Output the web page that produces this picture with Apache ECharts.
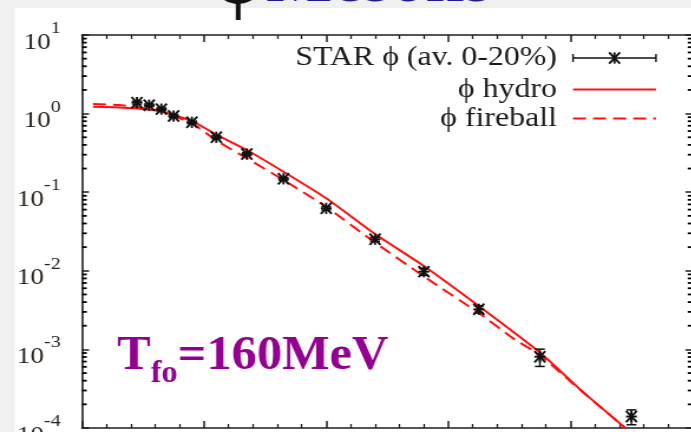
<!DOCTYPE html>
<html>
<head>
<meta charset="utf-8">
<script src="https://cdn.jsdelivr.net/npm/echarts@6/dist/echarts.min.js"></script>
<style>
  html, body { margin: 0; padding: 0; background: #f0f0f0; overflow: hidden; }
  #wrap { width: 691px; height: 432px; overflow: hidden; position: relative; }
  #chart { position: absolute; left: 0; top: 0; height: 432px; transform-origin: 0 0; }
</style>
</head>
<body>
<div id="wrap"><div id="chart"></div></div>
<script>
// The plot is drawn slightly narrow and widened horizontally, like the original figure.
const SX = 1.18;
const W = 691 / SX;
const chartEl = document.getElementById('chart');
chartEl.style.width = W + 'px';
chartEl.style.transform = 'scaleX(' + SX + ')';

// STAR phi spectrum, 0-20% centrality (pT in GeV, yield, error)
const phiPt    = [0.45, 0.55, 0.65, 0.75, 0.9, 1.1, 1.35, 1.65, 2.0, 2.4, 2.8, 3.25, 3.75, 4.5];
const phiYield = [1.38, 1.28, 1.14, 0.93, 0.775, 0.50, 0.306, 0.148, 0.0624, 0.0252, 0.00975, 0.00324, 0.000807, 0.00014];
const phiErr   = [0.06, 0.05, 0.045, 0.04, 0.03, 0.02, 0.012, 0.006, 0.003, 0.0015, 0.001, 0.00033, 0.0002, 0.00003];

// hydro curve
const hydroPt  = [0.09, 0.3, 0.45, 0.65, 0.75, 0.9, 1.1, 1.35, 1.65, 2.0, 2.4, 2.8, 3.25, 3.75, 4.1, 4.45];
const hydroVal = [1.22, 1.20, 1.16, 1.08, 0.95, 0.81, 0.54, 0.344, 0.182, 0.0836, 0.0294, 0.0115, 0.00356, 0.000914, 0.00029, 0.0001];

// fireball curve
const fireballPt  = [0.09, 0.3, 0.45, 0.65, 0.9, 1.1, 1.35, 1.65, 2.0, 2.4, 2.8, 3.25, 3.55, 3.75, 4.1, 4.45];
const fireballVal = [1.32, 1.29, 1.21, 1.06, 0.75, 0.455, 0.27, 0.143, 0.065, 0.0229, 0.00847, 0.0029, 0.00132, 0.00085, 0.000287, 0.0001];

// axis ranges
const xMin = 0, xMax = 5, xStep = 1;
const yMin = 1e-4, yMax = 10;

// 2..9 x 10^k minor ticks for the log axis
const logMinor = [];
for (let k = -4; k <= 0; k++) {
  for (let m = 2; m <= 9; m++) logMinor.push(m * Math.pow(10, k));
}

const INK = '#1e1e1e';
const RED = '#ff1010';
const SERIF = '"Liberation Serif", "Times New Roman", serif';

const axisLine = { show: true, onZero: false, lineStyle: { color: INK, width: 1.6 } };

function xAxisAt(pos) {
  return {
    type: 'value', position: pos, min: xMin, max: xMax, interval: xStep,
    axisLine: axisLine,
    axisTick: { show: true, inside: true, length: 7, lineStyle: { color: INK, width: 1.5 } },
    minorTick: { show: true, splitNumber: 5, length: 4, lineStyle: { color: INK, width: 1.3 } },
    axisLabel: { show: false }, splitLine: { show: false }, minorSplitLine: { show: false }
  };
}

function yAxisAt(pos, labels) {
  return {
    type: 'log', logBase: 10, position: pos, min: yMin, max: yMax,
    axisLine: axisLine,
    axisTick: { show: true, inside: true, length: 6, lineStyle: { color: INK, width: 1.5 } },
    splitLine: { show: false },
    axisLabel: labels ? {
      show: true, margin: 18, showMinLabel: true, showMaxLabel: true,
      padding: [4, 0, 0, 0],
      formatter: function (v) {
        const e = Math.round(Math.log10(v));
        return '{b|10}{s|' + e + '}';
      },
      rich: {
        b: { fontFamily: SERIF, fontSize: 23, lineHeight: 34, verticalAlign: 'bottom', color: '#2a2420' },
        s: { fontFamily: SERIF, fontSize: 17, lineHeight: 17, verticalAlign: 'top', color: '#2a2420' }
      }
    } : { show: false }
  };
}

// minor log ticks drawn as short bars sitting on the frame edges
const MINOR_LEN = 4;
function minorTickSeries(xEdge, dir) {
  return {
    type: 'scatter', xAxisIndex: 0, yAxisIndex: 0, silent: true,
    data: logMinor.map(v => [xEdge, v]),
    symbol: 'rect', symbolSize: [MINOR_LEN, 1.8], symbolOffset: [dir * MINOR_LEN / 2, 0],
    itemStyle: { color: '#000000', opacity: 1 }, clip: false, z: 6
  };
}

// asterisk marker with vertical error bar
function renderStar(params, api) {
  const x = api.value(0), y = api.value(1), e = api.value(2);
  const c = api.coord([x, y]);
  const hi = api.coord([x, y + e]);
  const lo = api.coord([x, y - e]);
  const cap = 4.2, rx = 4.6, ry = 5.6;
  const st = { stroke: '#111', lineWidth: 1.9 };
  const seg = (x1, y1, x2, y2, w) => ({
    type: 'line', shape: { x1, y1, x2, y2 },
    style: Object.assign({}, st, w ? { lineWidth: w } : {})
  });
  return {
    type: 'group',
    children: [
      seg(c[0], hi[1], c[0], lo[1], 1.4),
      seg(c[0] - cap, hi[1], c[0] + cap, hi[1], 1.5),
      seg(c[0] - cap, lo[1], c[0] + cap, lo[1], 1.5),
      seg(c[0] - rx, c[1], c[0] + rx, c[1]),
      seg(c[0], c[1] - ry, c[0], c[1] + ry),
      seg(c[0] - rx, c[1] - ry, c[0] + rx, c[1] + ry),
      seg(c[0] - rx, c[1] + ry, c[0] + rx, c[1] - ry)
    ]
  };
}

// legend sample geometry (in plot pixels)
const lgX1 = 573 / SX, lgX2 = 656 / SX, lgTextX = 557 / SX;
const lgRows = [58, 89.5, 118.5];
const lgMid = (lgX1 + lgX2) / 2;

function legendLine(y1, y2, x1, x2, extra) {
  return Object.assign({
    type: 'line', shape: { x1: x1, y1: y1, x2: x2, y2: y2 },
    style: { stroke: '#111', lineWidth: 1.4 }
  }, extra || {});
}

const LEGEND_FONT = '27px ' + SERIF;
const starStroke = { stroke: '#111', lineWidth: 1.9 };

const chart = echarts.init(chartEl, null, { renderer: 'canvas' });

chart.setOption({
  backgroundColor: 'transparent',
  animation: false,
  grid: {
    left: 82 / SX, right: W - 692 / SX, top: 35, bottom: 4,
    containLabel: false, outerBoundsMode: 'none'
  },
  xAxis: [xAxisAt('bottom'), xAxisAt('top')],
  yAxis: [yAxisAt('left', true), yAxisAt('right', false)],
  graphic: [
    // white panel
    { type: 'rect', z: -10, silent: true,
      shape: { x: 15 / SX, y: 8, width: W, height: 440 },
      style: { fill: '#ffffff' } },
    // title
    { type: 'text', z: 10, x: 214 / SX, y: -17.5, scaleX: 1 / SX, silent: true,
      style: {
        text: '{p|ϕ} {m|Mesons}', verticalAlign: 'middle', align: 'left',
        rich: {
          p: { fontFamily: SERIF, fontWeight: 'bold', fontSize: 78, fill: '#111111' },
          m: { fontFamily: SERIF, fontWeight: 'bold', fontSize: 70, fill: '#1c1c8c' }
        }
      } },
    // legend
    { type: 'text', x: lgTextX, y: lgRows[0], silent: true,
      style: { text: 'STAR ϕ (av. 0-20%)', align: 'right', verticalAlign: 'middle', font: LEGEND_FONT, fill: '#1a1a1a' } },
    { type: 'text', x: lgTextX, y: lgRows[1], silent: true,
      style: { text: 'ϕ hydro', align: 'right', verticalAlign: 'middle', font: LEGEND_FONT, fill: '#1a1a1a' } },
    { type: 'text', x: lgTextX, y: lgRows[2], silent: true,
      style: { text: 'ϕ fireball', align: 'right', verticalAlign: 'middle', font: LEGEND_FONT, fill: '#1a1a1a' } },
    legendLine(lgRows[0], lgRows[0], lgX1, lgX2),
    legendLine(lgRows[0] - 4, lgRows[0] + 4, lgX1, lgX1),
    legendLine(lgRows[0] - 4, lgRows[0] + 4, lgX2, lgX2),
    legendLine(lgRows[0] - 5.6, lgRows[0] + 5.6, lgMid, lgMid, { style: starStroke }),
    legendLine(lgRows[0] - 5.6, lgRows[0] + 5.6, lgMid - 4.6, lgMid + 4.6, { style: starStroke }),
    legendLine(lgRows[0] + 5.6, lgRows[0] - 5.6, lgMid - 4.6, lgMid + 4.6, { style: starStroke }),
    legendLine(lgRows[1], lgRows[1], lgX1, lgX2, { style: { stroke: RED, lineWidth: 2 } }),
    legendLine(lgRows[2], lgRows[2], lgX1, lgX2, { style: { stroke: RED, lineWidth: 2, lineDash: [11, 6] } }),
    // freeze-out temperature
    { type: 'text', x: 117 / SX, y: 361, scaleX: 1.05 / SX, silent: true,
      style: {
        text: '{t|T}{u|fo}{t|=160MeV}', align: 'left', verticalAlign: 'middle',
        rich: {
          t: { fontFamily: SERIF, fontWeight: 'bold', fontSize: 48, lineHeight: 48, verticalAlign: 'top', fill: '#930090' },
          u: { fontFamily: SERIF, fontWeight: 'bold', fontSize: 31, lineHeight: 57, verticalAlign: 'bottom', fill: '#930090' }
        }
      } }
  ],
  series: [
    {
      name: 'ϕ hydro', type: 'line', xAxisIndex: 0, yAxisIndex: 0,
      data: hydroPt.map((p, i) => [p, hydroVal[i]]),
      showSymbol: false, symbol: 'none', smooth: 0.2,
      lineStyle: { color: RED, width: 2 }, z: 3
    },
    {
      name: 'ϕ fireball', type: 'line', xAxisIndex: 0, yAxisIndex: 0,
      data: fireballPt.map((p, i) => [p, fireballVal[i]]),
      showSymbol: false, symbol: 'none', smooth: 0.2,
      lineStyle: { color: RED, width: 2, type: [11, 6] }, z: 3
    },
    {
      name: 'STAR ϕ (av. 0-20%)', type: 'custom', xAxisIndex: 0, yAxisIndex: 0,
      dimensions: ['pt', 'yield', 'err'],
      encode: { x: 0, y: 1 },
      data: phiPt.map((p, i) => [p, phiYield[i], phiErr[i]]),
      renderItem: renderStar, z: 4
    },
    minorTickSeries(xMin, 1),
    minorTickSeries(xMax, -1)
  ]
});
</script>
</body>
</html>
